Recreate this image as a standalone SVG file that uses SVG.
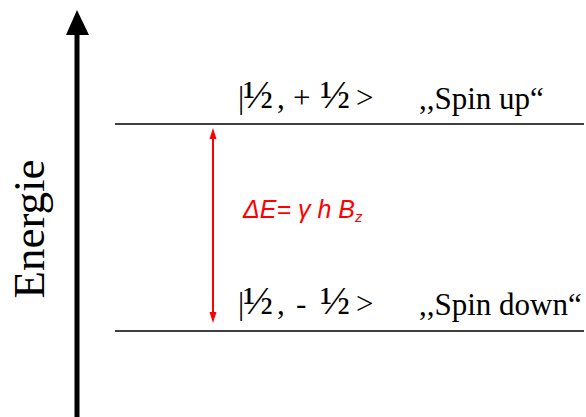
<svg xmlns="http://www.w3.org/2000/svg" width="586" height="417" viewBox="0 0 586 417">
<style>
.lvl{stroke:#000;stroke-width:1.3;fill:none}
.t{font-family:"Liberation Serif",serif;font-size:31px;fill:#000}
.h{font-size:40px}
.f{font-family:"Liberation Sans",sans-serif;font-style:italic;font-size:25px;fill:#f00}
</style>
<g id="connectors">
<line x1="77" y1="417" x2="77" y2="30" stroke="#000" stroke-width="5"/>
<path d="M66,35 L77,10 L89,35 Z" fill="#000"/>
<line x1="213" y1="136" x2="213" y2="315" stroke="#f00" stroke-width="2"/>
<path d="M209.5,139 L213,128 L216.5,139 Z" fill="#f00"/>
<path d="M209.5,312 L213,323 L216.5,312 Z" fill="#f00"/>
</g>
<g id="axis-label">
<text class="t" style="font-size:45px" transform="translate(44,229) rotate(-90)" text-anchor="middle">Energie</text>
</g>
<g id="level-up">
<line class="lvl" x1="115" y1="124" x2="584" y2="124"/>
<text class="t" y="108"><tspan x="238">|</tspan><tspan class="h" x="243">½</tspan><tspan x="277">,</tspan><tspan x="293">+</tspan><tspan class="h" x="320">½</tspan><tspan x="356">&gt;</tspan></text>
<text class="t" x="419" y="109">,,Spin up“</text>
</g>
<g id="level-down">
<line class="lvl" x1="115" y1="331" x2="584" y2="331"/>
<text class="t" y="314"><tspan x="238">|</tspan><tspan class="h" x="243">½</tspan><tspan x="277">,</tspan><tspan x="296">-</tspan><tspan class="h" x="320">½</tspan><tspan x="356">&gt;</tspan></text>
<text class="t" x="419" y="315">,,Spin down“</text>
</g>
<g id="energy-gap">
<text class="f" x="243" y="218">ΔE= γ h B<tspan font-size="15" dy="4">z</tspan></text>
</g>
</svg>
